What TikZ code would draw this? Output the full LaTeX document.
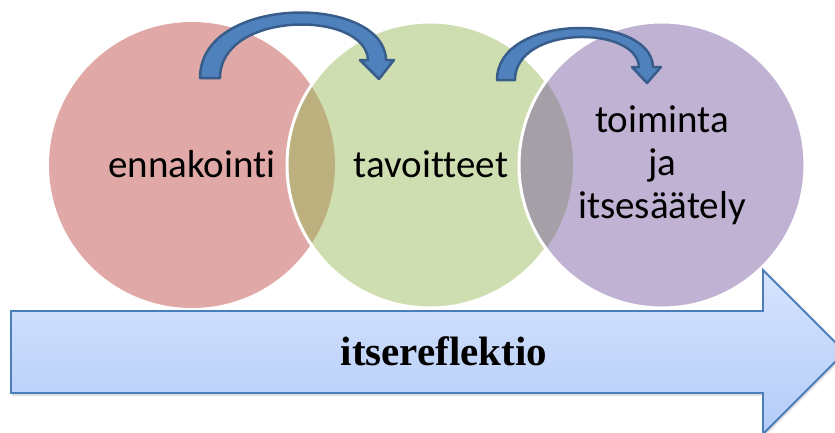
\documentclass[tikz,border=0pt]{standalone}
\usepackage{fontspec}
\usepackage{tkz-euclide}
\usetikzlibrary{shadows}
\newfontfamily\calibrifont[Ligatures=NoCommon]{Carlito}
\newfontfamily\antiquafont{Liberation Serif}

\definecolor{redball}{RGB}{224,168,166}
\definecolor{greenball}{RGB}{207,222,176}
\definecolor{purpleball}{RGB}{191,178,210}
\definecolor{tanlens}{RGB}{188,176,126}
\definecolor{greylens}{RGB}{165,160,168}
\definecolor{arcfill}{RGB}{79,129,189}
\definecolor{arcline}{RGB}{56,93,138}
\definecolor{arrowtop}{RGB}{215,227,253}
\definecolor{arrowbot}{RGB}{179,204,249}
\definecolor{arrowline}{RGB}{74,126,187}

\tikzset{
  ballrim/.style={draw=white, line width=3pt},
  bentarrow/.style={fill=arcfill, draw=arcline, line width=2.5pt, line join=round},
  bigarrow/.style={top color=arrowtop, bottom color=arrowbot, draw=arrowline,
    line width=1.8pt, drop shadow={shadow xshift=1pt, shadow yshift=-3pt, opacity=.25}},
  balltext/.style={font=\calibrifont\fontsize{39}{43}\selectfont, anchor=base, align=center},
  arrowtext/.style={font=\antiquafont\bfseries\fontsize{41}{46}\selectfont, anchor=base}
}

\begin{document}
\begin{tikzpicture}[x=1pt,y=-1pt]
    \useasboundingbox (0,0) rectangle (835,432);
    \tkzDefPoints{192/165/R, 430/165/G, 662/165/P}
    % the three circles
    \fill[redball] (R) circle (143);
    \fill[greenball] (G) circle (143);
    \begin{scope}
      \clip (R) circle (143);
      \fill[tanlens] (G) circle (143);
    \end{scope}
    \draw[ballrim] (G) circle (143);
    \fill[purpleball] (P) circle (143);
    \begin{scope}
      \clip (G) circle (143);
      \fill[greylens] (P) circle (143);
    \end{scope}
    \draw[ballrim] (P) circle (143);
    \node[balltext] (ennakointi) at (192,177) {ennakointi};
    \node[balltext] (tavoitteet) at (431,177) {tavoitteet};
    \node[balltext] (toiminta) at (662,218) {toiminta\\ja\\itsesäätely};
    % bent arrows
    \filldraw[bentarrow] (200,78) .. controls (200,-6) and (384,-6) .. (386,60)
      -- (394,60) -- (379,79) -- (360,60) -- (368,60)
      .. controls (366,10) and (220,10) .. (220,78) -- cycle;
    \filldraw[bentarrow] (497,80) .. controls (497,13) and (651,13) .. (653,67)
      -- (661,67) -- (647,83) -- (632,67) -- (639,67)
      .. controls (637,25) and (515,25) .. (515,80) -- cycle;
    % big arrow
    \filldraw[bigarrow] (11,311) -- (763,311) -- (763,270) -- (845,352)
      -- (763,434) -- (763,393) -- (11,393) -- cycle;
    \node[arrowtext] (itsereflektio) at (444,365) {itsereflektio};
\end{tikzpicture}
\end{document}
